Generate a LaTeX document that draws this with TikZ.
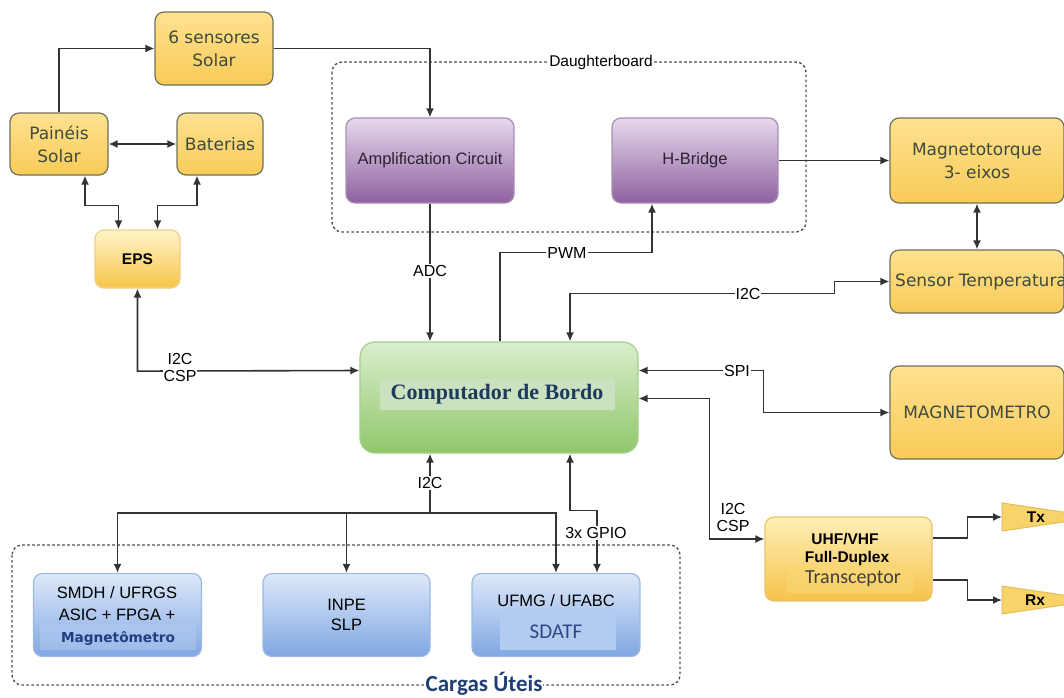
\documentclass[tikz,border=0pt]{standalone}
\usepackage{fontspec}
\setmainfont{Liberation Sans}
\newfontfamily\vfont{DejaVu Sans}
\newfontfamily\serf{Liberation Serif}
\newfontfamily\calf{Carlito}
\usetikzlibrary{arrows.meta,calc}
\definecolor{lc}{HTML}{333333}
\definecolor{dc}{HTML}{505050}
\definecolor{ytop}{HTML}{FFE190}
\definecolor{ybot}{HTML}{F8CB58}
\definecolor{ybd}{HTML}{6F7256}
\definecolor{ytx}{HTML}{3D4B3D}
\definecolor{etop}{HTML}{FFF4C8}
\definecolor{ebot}{HTML}{F6C449}
\definecolor{ebd}{HTML}{EDD08A}
\definecolor{ptop}{HTML}{E5D8EC}
\definecolor{pbot}{HTML}{8F619F}
\definecolor{pbd}{HTML}{A890B4}
\definecolor{ptx}{HTML}{2B2233}
\definecolor{gtop}{HTML}{D9EECD}
\definecolor{gbot}{HTML}{90C66B}
\definecolor{gbd}{HTML}{A5CF8C}
\definecolor{gband}{HTML}{CAE2BF}
\definecolor{ctx}{HTML}{1E3A5E}
\definecolor{btop}{HTML}{DDE8F8}
\definecolor{bbot}{HTML}{80A7E3}
\definecolor{bbd}{HTML}{9EB9E2}
\definecolor{bband}{HTML}{B4CBF0}
\definecolor{mblue}{HTML}{1F3F80}
\definecolor{sblue}{HTML}{2D4A86}
\definecolor{utop}{HTML}{FFEFB5}
\definecolor{ubot}{HTML}{F6C24C}
\definecolor{ubd}{HTML}{E6C56F}
\definecolor{uband}{HTML}{F9D874}
\definecolor{tfill}{HTML}{F8D36A}
\definecolor{tbd}{HTML}{E2BF5A}
\definecolor{cblue}{HTML}{1F3F73}
\begin{document}
\begin{tikzpicture}[x=1pt,y=-1pt,
  cline/.style={draw=lc, line width=1.6pt},
  arr/.style={cline, -{Latex[length=9pt,width=8pt]}},
  darr/.style={cline, {Latex[length=9pt,width=8pt]}-{Latex[length=9pt,width=8pt]}},
  bx/.style={rounded corners=9pt, line width=1.2pt, inner sep=0pt, align=center},
  ybox/.style={bx, draw=ybd, top color=ytop, bottom color=ybot, text=ytx, font=\vfont\fontsize{17}{23}\selectfont},
  epsbox/.style={bx, draw=ebd, top color=etop, bottom color=ebot, text=black, font=\bfseries\fontsize{15.5}{18}\selectfont},
  pbox/.style={bx, draw=pbd, top color=ptop, bottom color=pbot, text=ptx, font=\fontsize{16.5}{19}\selectfont},
  gbox/.style={bx, rounded corners=15pt, draw=gbd, top color=gtop, bottom color=gbot},
  bbox/.style={bx, draw=bbd, top color=btop, bottom color=bbot, text=black, font=\fontsize{16.5}{20}\selectfont},
  ubox/.style={bx, draw=ubd, top color=utop, bottom color=ubot},
  btxt/.style={inner sep=0pt, text=black, font=\fontsize{16.5}{20}\selectfont},
  lab/.style={fill=white, inner sep=1pt, text=black, font=\fontsize{16}{17}\selectfont, align=center},
  dbox/.style={draw=dc, line width=1.4pt, dash pattern=on 2.6pt off 2.4pt, rounded corners=10pt},
  tri/.style={draw=tbd, line width=1pt, fill=tfill},
]
\clip (0,0) rectangle (1064,697);
\fill[white] (0,0) rectangle (1064,697);

% dashed groups
\draw[dbox] (332,62) rectangle (806,232);
\draw[dbox] (12,545) rectangle (680,685);

% yellow boxes
\node[ybox, minimum width=118pt, minimum height=73pt] (sens) at (214,48.5) {6 sensores\\Solar};
\node[ybox, minimum width=98pt, minimum height=62pt] (pain) at (59,144) {Painéis\\Solar};
\node[ybox, minimum width=86pt, minimum height=62pt] (bat) at (220,144) {Baterias};
\node[epsbox, minimum width=85pt, minimum height=58pt] (eps) at (137.5,259) {EPS};
\node[ybox, minimum width=174pt, minimum height=85pt] (mt) at (977,160.5) {Magnetotorque\\3- eixos};
\node[ybox, minimum width=174pt, minimum height=63pt] (st) at (977,281.5) {};
\node[inner sep=0pt, anchor=west, text=ytx, font=\vfont\fontsize{17}{20}\selectfont] (stt) at (895,281.5) {Sensor Temperatura};
\node[ybox, minimum width=174pt, minimum height=93pt] (mag) at (977,412.5) {MAGNETOMETRO};

% purple boxes
\node[pbox, minimum width=168pt, minimum height=85pt] (amp) at (430,160.5) {Amplification Circuit};
\node[pbox, minimum width=166pt, minimum height=85pt] (hb) at (695,160.5) {H-Bridge};

% computer
\node[gbox, minimum width=278pt, minimum height=111pt] (cpu) at (499,397.5) {};
\fill[gband] (380,379) rectangle (615,410);
\node[inner sep=0pt, text=ctx, font=\serf\bfseries\fontsize{22}{24}\selectfont] (cput) at (497,394) {Computador de Bordo};

% transceiver
\node[ubox, minimum width=167pt, minimum height=84pt] (uhf) at (848.5,559) {};
\fill[uband, opacity=0.6] (787,563) rectangle (913,593);
\node[inner sep=0pt, font=\bfseries\fontsize{15.5}{18}\selectfont] (uhf1) at (845,539) {UHF/VHF};
\node[inner sep=0pt, font=\bfseries\fontsize{15.5}{18}\selectfont] (uhf2) at (847,558) {Full-Duplex};
\node[inner sep=0pt, text=black!75, font=\calf\fontsize{20}{22}\selectfont] (uhf3) at (853,579) {Transceptor};

% antennas
\draw[tri] (1002,503) -- (1097,517) -- (1002,531) -- cycle;
\draw[tri] (1002,586) -- (1097,600) -- (1002,614) -- cycle;
\coordinate (txb) at (1002,517);
\coordinate (rxb) at (1002,600);
\node[inner sep=0pt, font=\bfseries\fontsize{15.5}{18}\selectfont] (txt) at (1036,517) {Tx};
\node[inner sep=0pt, font=\bfseries\fontsize{15.5}{18}\selectfont] (rxt) at (1035,600) {Rx};

% payloads
\node[bbox, minimum width=168pt, minimum height=83pt] (smdh) at (117.5,615) {};
\fill[bband, opacity=0.5] (40,624) rectangle (196,650);
\node[btxt] (smdh1) at (117,593) {SMDH / UFRGS};
\node[btxt] (smdh2) at (117,615) {ASIC + FPGA +};
\node[inner sep=0pt, text=mblue, font=\vfont\bfseries\fontsize{13.7}{16}\selectfont] (smdh3) at (118,638) {Magnetômetro};
\node[bbox, minimum width=167pt, minimum height=83pt] (inpe) at (346.5,615) {INPE\\SLP};
\node[bbox, minimum width=168pt, minimum height=83pt] (ufmg) at (556,615) {};
\fill[bband] (500,612) rectangle (616,650);
\node[btxt] (ufmg1) at (556,601) {UFMG / UFABC};
\node[inner sep=0pt, text=sblue, font=\calf\fontsize{21}{24}\selectfont] (ufmg2) at (556,632) {SDATF};

% connectors
\draw[arr] (pain.north) |- (sens.west);
\draw[arr] (sens.east) -| (amp.north);
\draw[darr] (pain.east) -- (bat.west);
\draw[darr] ([xshift=26pt]pain.south) -- ++(0,30) -| ([xshift=-19pt]eps.north);
\draw[darr] ([xshift=-23pt]bat.south) -- ++(0,30) -| ([xshift=20pt]eps.north);
\draw[darr] (eps.south) -- ++(0,82.5) -- ([yshift=27pt]cpu.west);
\node[lab] (i2ceps) at (180,367) {I2C\\CSP};
\draw[arr] (amp.south) -- (amp.south |- cpu.north);
\node[lab] (adc) at (430,271) {ADC};
\draw[arr] ([xshift=1pt]cpu.north) -- ++(0,-89) -| ([xshift=-43pt]hb.south);
\node[lab] (pwm) at (567,253) {PWM};
\draw[arr] (hb.east) -- (mt.west);
\draw[darr] (mt.south) -- (st.north);
\draw[darr] (st.west) -- ++(-55,0) -- ++(0,12) -| ([xshift=71pt]cpu.north);
\node[lab] (i2cst) at (748,293.5) {I2C};
\draw[darr] ([yshift=27pt]cpu.east) -- ++(125,0) |- (mag.west);
\node[lab] (spi) at (737,370.5) {SPI};
\draw[darr] ([yshift=-1pt]cpu.east) -- ++(71,0) |- ([yshift=20pt]uhf.west);
\node[lab, fill=none] (i2cuhf) at (733,517) {I2C\\CSP};
\draw[arr] ([yshift=21pt]uhf.east) -- ++(35,0) |- (txb);
\draw[arr] ([yshift=-21pt]uhf.east) -- ++(35,0) |- (rxb);
\coordinate (busj) at (430,513);
\draw[arr] (busj) -- ([xshift=-69pt]cpu.south);
\draw[arr] (busj) -| (smdh.north);
\draw[arr] (busj) -| (inpe.north);
\draw[arr] (busj) -| (ufmg.north);
\node[lab] (i2cbus) at (430,483) {I2C};
\draw[darr] ([xshift=71pt]cpu.south) -- ++(0,57) -| ([xshift=41pt]ufmg.north);
\node[lab] (gpio) at (596,533) {3x GPIO};

% group labels
\node[lab, font=\fontsize{15.5}{17}\selectfont] (dlab) at (601,62) {Daughterboard};
\node[lab, text=cblue, font=\calf\bfseries\fontsize{23}{25}\selectfont] (clab) at (484,684) {Cargas Úteis};
\end{tikzpicture}
\end{document}
